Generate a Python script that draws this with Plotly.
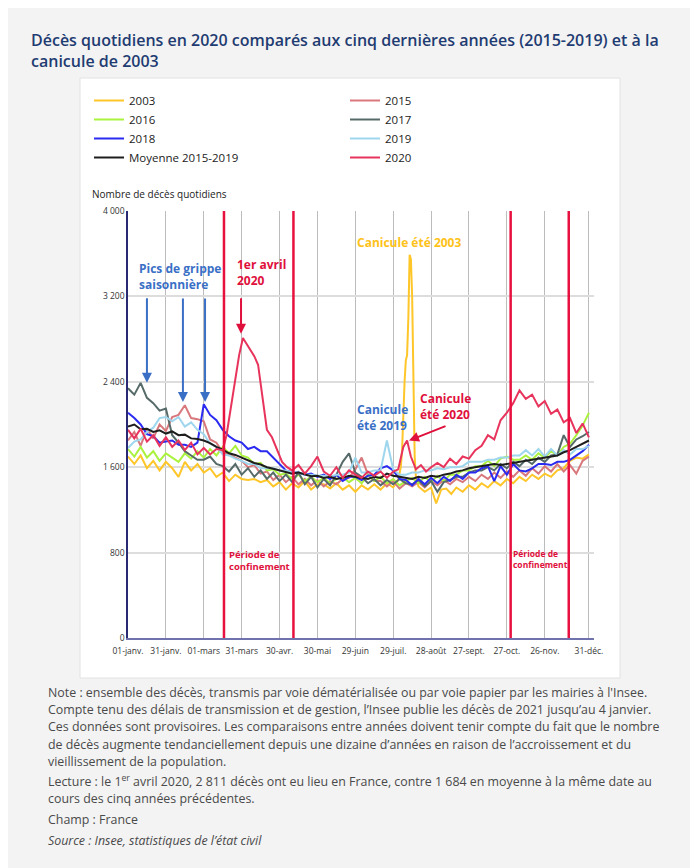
import plotly.graph_objects as go

# ---------------- data ----------------
tick_days = [0, 30, 60, 90, 120, 150, 180, 210, 240, 270, 300, 330, 365]
tick_labels = ["01-janv.", "31-janv.", "01-mars", "31-mars", "30-avr.", "30-mai",
               "29-juin", "29-juil.", "28-août", "27-sept.", "27-oct.", "26-nov.", "31-déc."]
y_ticks = [0, 800, 1600, 2400, 3200, 4000]
y_tick_labels = ["0", "800", "1 600", "2 400", "3 200", "4 000"]

days5 = list(range(0, 366, 5))

deces_2015 = [1850, 1930, 1800, 1960, 1870, 2000, 1940, 2070, 2090, 2180,
              2060, 2050, 2030, 1860, 1830, 1740, 1720, 1690, 1660, 1600,
              1620, 1540, 1560, 1480, 1530, 1460, 1510, 1440, 1490, 1430,
              1480, 1420, 1470, 1440, 1490, 1500, 1580, 1690, 1530, 1470,
              1470, 1420, 1470, 1400, 1450, 1420, 1460, 1410, 1470, 1430,
              1480, 1440, 1490, 1460, 1510, 1470, 1530, 1490, 1550, 1500,
              1560, 1510, 1570, 1520, 1590, 1540, 1610, 1560, 1630, 1560,
              1620, 1540, 1660, 1700]
deces_2016 = [1770, 1700, 1790, 1690, 1750, 1660, 1730, 1690, 1650, 1730,
              1680, 1750, 1690, 1770, 1710, 1790, 1730, 1800, 1710, 1690,
              1630, 1640, 1570, 1580, 1530, 1540, 1490, 1530, 1470, 1510,
              1460, 1500, 1450, 1490, 1510, 1460, 1500, 1450, 1530, 1470,
              1510, 1450, 1490, 1430, 1470, 1500, 1450, 1510, 1460, 1520,
              1470, 1530, 1530, 1570, 1570, 1610, 1610, 1660, 1610, 1680,
              1700, 1670, 1670, 1710, 1670, 1730, 1690, 1750, 1710, 1790,
              1820, 1900, 1990, 2110]
deces_2017 = [2340, 2280, 2390, 2250, 2200, 2130, 2150, 1900, 1830, 1750,
              1710, 1670, 1670, 1700, 1630, 1610, 1560, 1630, 1530, 1590,
              1510, 1570, 1490, 1550, 1470, 1530, 1460, 1550, 1440, 1510,
              1410, 1490, 1430, 1530, 1650, 1730, 1550, 1510, 1450, 1490,
              1430, 1480, 1440, 1490, 1450, 1440, 1480, 1420, 1470, 1370,
              1460, 1480, 1510, 1510, 1550, 1570, 1570, 1600, 1570, 1630,
              1590, 1650, 1610, 1670, 1630, 1690, 1650, 1710, 1720, 1900,
              1790, 1860, 1890, 1930]
deces_2018 = [2110, 2060, 2000, 1910, 1890, 1830, 1840, 1850, 1810, 1810,
              1790, 1830, 2190, 2090, 2040, 1950, 1890, 1850, 1830, 1770,
              1790, 1750, 1750, 1690, 1630, 1570, 1550, 1550, 1530, 1540,
              1510, 1530, 1490, 1530, 1470, 1510, 1510, 1480, 1520, 1530,
              1590, 1610, 1570, 1490, 1480, 1430, 1490, 1440, 1500, 1450,
              1510, 1470, 1530, 1490, 1550, 1550, 1590, 1610, 1470, 1610,
              1530, 1630, 1570, 1560, 1590, 1630, 1630, 1620, 1650, 1650,
              1670, 1710, 1750, 1810]
deces_2019 = [1780, 1840, 1860, 1930, 1970, 2060, 2070, 2030, 2070, 1980,
              2020, 1950, 1910, 1820, 1790, 1720, 1710, 1680, 1660, 1630,
              1630, 1590, 1590, 1590, 1570, 1570, 1550, 1550, 1530, 1530,
              1520, 1520, 1510, 1530, 1530, 1550, 1690, 1550, 1550, 1570,
              1570, 1850, 1580, 1530, 1530, 1550, 1550, 1570, 1570, 1590,
              1580, 1600, 1600, 1610, 1650, 1650, 1650, 1670, 1670, 1690,
              1690, 1710, 1710, 1760, 1710, 1770, 1700, 1770, 1710, 1760,
              1720, 1770, 1770, 1800]
moyenne_2015_2019 = [1980, 2000, 1955, 1960, 1930, 1945, 1915, 1935, 1900, 1905,
                     1870, 1865, 1850, 1825, 1790, 1765, 1730, 1715, 1690, 1665,
                     1640, 1625, 1600, 1585, 1570, 1560, 1540, 1550, 1530, 1515,
                     1520, 1500, 1510, 1490, 1500, 1520, 1510, 1500, 1490, 1510,
                     1500, 1540, 1520, 1510, 1500, 1490, 1510, 1500, 1520, 1510,
                     1530, 1540, 1560, 1570, 1590, 1600, 1610, 1620, 1630, 1620,
                     1630, 1640, 1650, 1660, 1670, 1680, 1690, 1700, 1710, 1740,
                     1760, 1790, 1820, 1850]

days_2003 = [0, 5, 10, 15, 20, 25, 30, 35, 40, 45, 50, 55, 60, 65, 70, 75, 80, 85, 90, 95,
             100, 105, 110, 115, 120, 125, 130, 135, 140, 145, 150, 155, 160, 165, 170,
             175, 180, 185, 190, 195, 200, 205, 210, 214, 216, 217, 219, 220, 221, 222,
             223, 224, 225, 226, 227, 228, 230, 235, 240, 244, 248, 252, 256, 260, 265,
             270, 275, 280, 285, 290, 295, 300, 305, 310, 315, 320, 325, 330, 335, 340,
             345, 350, 355, 360, 365]
deces_2003 = [1700, 1630, 1710, 1590, 1660, 1570, 1650, 1590, 1510, 1650, 1570, 1630, 1550,
              1590, 1510, 1550, 1470, 1530, 1490, 1480, 1490, 1460, 1480, 1420, 1460, 1390,
              1450, 1410, 1470, 1390, 1440, 1440, 1400, 1450, 1390, 1430, 1370, 1430, 1390,
              1440, 1390, 1450, 1410, 1480, 1600, 1750, 2400, 2600, 2650, 3000, 3590, 3550,
              3200, 2300, 1700, 1500, 1420, 1370, 1410, 1260, 1390, 1400, 1350, 1410, 1370,
              1430, 1390, 1450, 1410, 1470, 1430, 1490, 1450, 1510, 1470, 1530, 1490, 1540,
              1510, 1570, 1590, 1660, 1690, 1680, 1720]

days_2020 = [0, 5, 10, 15, 20, 25, 30, 35, 40, 45, 50, 55, 60, 65, 70, 75, 78, 80, 82, 85,
             88, 91, 94, 97, 100, 103, 106, 108, 110, 114, 118, 122, 126, 130, 135, 140,
             145, 150, 155, 160, 165, 170, 175, 180, 185, 190, 195, 200, 205, 210, 214,
             218, 221, 224, 228, 232, 236, 240, 245, 250, 255, 260, 265, 270, 275, 280,
             285, 290, 295, 300, 305, 310, 315, 320, 325, 330, 335, 340, 345, 350, 355,
             360, 365]
deces_2020 = [1950, 1870, 1960, 1840, 1900, 1800, 1880, 1790, 1850, 1760, 1830, 1720, 1780,
              1720, 1770, 1760, 1900, 2050, 2200, 2420, 2650, 2811, 2750, 2700, 2640, 2560,
              2300, 2120, 1950, 1880, 1760, 1650, 1600, 1570, 1620, 1540, 1610, 1700, 1560,
              1520, 1600, 1500, 1570, 1530, 1500, 1560, 1520, 1560, 1500, 1560, 1580, 1790,
              1850, 1700, 1580, 1620, 1560, 1600, 1640, 1600, 1680, 1630, 1700, 1680, 1760,
              1800, 1900, 1860, 2040, 2110, 2200, 2320, 2240, 2280, 2170, 2220, 2100, 2140,
              2020, 2060, 1920, 2010, 1880]

confinement_days = [76, 131, 303, 349]

# name, days, values, colour, legend column
series = [
    ("2003", days_2003, deces_2003, "#ffc629", "legend"),
    ("2015", days5, deces_2015, "#d9787c", "legend2"),
    ("2016", days5, deces_2016, "#abf23f", "legend"),
    ("2017", days5, deces_2017, "#566b69", "legend2"),
    ("2018", days5, deces_2018, "#2a2af0", "legend"),
    ("2019", days5, deces_2019, "#9ed6ee", "legend2"),
    ("Moyenne 2015-2019", days5, moyenne_2015_2019, "#1e1e1e", "legend"),
    ("2020", days_2020, deces_2020, "#e8345c", "legend2"),
]

# ---------------- figure ----------------
FONT = "Open Sans"
OFF = 8                       # page body margin of the html page
W, H = 698 - OFF, 868 - OFF
L, R, T, B = 128, 594, 211, 638   # plot area in screen pixels
PW, PH = R - L, B - T


def px(xs):
    return (xs - L) / PW


def py(ys):
    return (B - ys) / PH


fig = go.Figure()
for name, d, v, c, lg in series:
    fig.add_trace(go.Scatter(x=d, y=v, mode="lines", name=name, legend=lg,
                             line=dict(color=c, width=2), hoverinfo="x+y+name"))

shapes = [
    dict(type="rect", xref="paper", yref="paper", x0=px(80), x1=px(620), y0=py(678), y1=py(78),
         fillcolor="white", line=dict(color="#e2e2e2", width=1), layer="below"),
]
for cd in confinement_days:
    shapes.append(dict(type="line", xref="x", yref="paper", x0=cd, x1=cd, y0=0, y1=1,
                       line=dict(color="#e8103f", width=2.5)))

BLUE = "#3a6fc6"
RED = "#e0103c"
ORANGE = "#ffc21a"

ann = []


def txt(x, y, text, color, size=12.5, weight=700, xref="x", yref="y", style="normal"):
    ann.append(dict(x=x, y=y, xref=xref, yref=yref, text=text, showarrow=False,
                    xanchor="left", yanchor="top", align="left",
                    font=dict(family=FONT, size=size, color=color, weight=weight, style=style)))


def arrow(xd, yd, ax, ay, color):
    ann.append(dict(x=xd, y=yd, xref="x", yref="y", text="", showarrow=True,
                    ax=ax, ay=ay, arrowhead=2, arrowsize=1, arrowwidth=2, arrowcolor=color,
                    standoff=0))


txt(7, 3560, "Pics de grippe<br>saisonnière", BLUE, size=12)
arrow(15, 2390, 0, -86, BLUE)
arrow(43.5, 2210, 0, -105, BLUE)
arrow(61, 2210, 0, -105, BLUE)
txt(84.5, 3600, "1er avril<br>2020", RED, size=12)
arrow(89.5, 2850, 0, -37, RED)
txt(179.5, 3800, "Canicule été 2003", ORANGE, size=12)
txt(179.5, 2240, "Canicule<br>été 2019", BLUE, size=12)
txt(229.5, 2340, "Canicule<br>été 2020", RED, size=12)
arrow(222.5, 1850, 38, -15, RED)
txt(78, 860, "Période de<br>confinement", RED, size=9.5)
txt(303.5, 860, "Période de<br>confinement", RED, size=8.5)

# axis title
txt(px(90), py(185), "Nombre de décès quotidiens", "#222222", size=10, weight=400,
    xref="paper", yref="paper")

# title
txt(px(29), py(27), "Décès quotidiens en 2020 comparés aux cinq dernières années (2015-2019) et à la<br>canicule de 2003",
    "#1f3c72", size=16, weight=600, xref="paper", yref="paper")

notes = [
    (692, "Note : ensemble des décès, transmis par voie dématérialisée ou par voie papier par les mairies à l'Insee.", "normal"),
    (709, "Compte tenu des délais de transmission et de gestion, l’Insee publie les décès de 2021 jusqu’au 4 janvier.", "normal"),
    (726, "Ces données sont provisoires. Les comparaisons entre années doivent tenir compte du fait que le nombre", "normal"),
    (744, "de décès augmente tendanciellement depuis une dizaine d’années en raison de l’accroissement et du", "normal"),
    (761, "vieillissement de la population.", "normal"),
    (781, "Lecture : le 1<sup>er</sup> avril 2020, 2 811 décès ont eu lieu en France, contre 1 684 en moyenne à la même date au", "normal"),
    (798, "cours des cinq années précédentes.", "normal"),
    (819, "Champ : France", "normal"),
    (840, "Source : Insee, statistiques de l’état civil", "italic"),
]
for yline, t, style in notes:
    ann.append(dict(x=px(46), y=py(yline), xref="paper", yref="paper", text=t, showarrow=False,
                    xanchor="left", yanchor="middle", align="left",
                    font=dict(family=FONT, size=12.4, color="#4a4a4a", style=style)))

legend_style = dict(orientation="v", xanchor="left", yanchor="top", xref="paper", yref="paper",
                    bgcolor="rgba(0,0,0,0)", font=dict(family=FONT, size=11.5, color="#222222"),
                    traceorder="normal")

fig.update_layout(
    width=W, height=H,
    margin=dict(l=L - OFF, r=W - (R - OFF), t=T - OFF, b=H - (B - OFF), autoexpand=False),
    paper_bgcolor="#f3f3f3", plot_bgcolor="white",
    font=dict(family=FONT, size=11, color="#333333"),
    showlegend=True,
    legend=dict(x=px(89), y=py(86), **legend_style),
    legend2=dict(x=px(345), y=py(86), **legend_style),
    shapes=shapes, annotations=ann,
    xaxis=dict(range=[0, 369], tickvals=tick_days, ticktext=tick_labels, showgrid=True,
               gridcolor="#bcbcbc", gridwidth=1, zeroline=False, showline=True,
               linecolor="#6f72ad", linewidth=2, ticks="", fixedrange=True,
               ticklabelstandoff=4,
               tickfont=dict(family=FONT, size=8.5, color="#333333")),
    yaxis=dict(range=[0, 4000], tickvals=y_ticks, ticktext=y_tick_labels, showgrid=True,
               gridcolor="#dddddd", gridwidth=2, zeroline=False, showline=True,
               linecolor="#2a2a72", linewidth=1.5, ticks="", fixedrange=True,
               tickfont=dict(family=FONT, size=8.5, color="#333333")),
)

fig.write_html("out.html")
